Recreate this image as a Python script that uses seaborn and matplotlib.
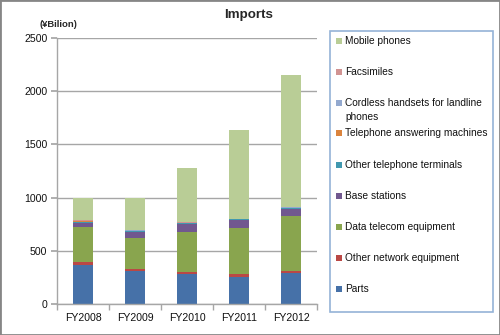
import matplotlib
matplotlib.use("Agg")
import matplotlib.pyplot as plt
from matplotlib.patches import Rectangle
import numpy as np
import pandas as pd
import seaborn as sns

years = ["FY2008", "FY2009", "FY2010", "FY2011", "FY2012"]
# stacking order bottom -> top
series_names = ["Parts", "Other network equipment", "Data telecom equipment",
                "Base stations", "Other telephone terminals",
                "Telephone answering machines",
                "Cordless handsets for landline\nphones", "Facsimiles",
                "Mobile phones"]
parts = [370, 315, 284, 259, 290]
other_network = [25, 16, 16, 22, 22]
data_telecom = [330, 294, 378, 434, 513]
base_stations = [40, 53, 72, 72, 68]
other_tel_terminals = [10, 9, 9, 10, 13]
answering_machines = [2, 2, 2, 1, 1]
cordless = [5, 4, 4, 2, 5]
facsimiles = [8, 4, 4, 0, 1]
mobile = [210, 298, 506, 834, 1237]
colors = ["#4671A8", "#BA4845", "#89A54E", "#71588F", "#4198AF",
          "#DB843D", "#93A9CF", "#D19392", "#B9CD96"]

values = [parts, other_network, data_telecom, base_stations, other_tel_terminals,
          answering_machines, cordless, facsimiles, mobile]

sns.set_theme(style="white")
plt.rcParams['font.family'] = ['Liberation Sans', 'DejaVu Sans']

fig = plt.figure(figsize=(5.0, 3.35), dpi=100)
ax = fig.add_axes([0.114, 0.0916, 0.52, 0.796])

bottom = np.zeros(len(years))
for name, vals, col in zip(series_names, values, colors):
    df = pd.DataFrame({"year": years, "value": vals})
    sns.barplot(data=df, x="year", y="value", ax=ax, color=col, width=0.385,
                bottom=bottom, saturation=1, edgecolor="none", linewidth=0,
                errorbar=None)
    bottom = bottom + np.array(vals)

ax.set_ylim(0, 2500)
ax.set_xlim(-0.5, 4.5)
ax.set_yticks(np.arange(0, 2501, 500))
ax.yaxis.grid(True, color="#A6A6A6", linewidth=1)
ax.set_axisbelow(True)
ax.set_xlabel("")
ax.set_ylabel("")
for s in ["top", "right"]:
    ax.spines[s].set_visible(False)
for s in ["left", "bottom"]:
    ax.spines[s].set_color("#A6A6A6")
    ax.spines[s].set_linewidth(1)
ax.tick_params(axis="y", which="major", left=True, length=4, color="#A6A6A6",
               labelsize=7.6, pad=3, labelcolor="#111111")
ax.tick_params(axis="x", which="major", length=0, labelsize=7.6, pad=6,
               labelcolor="#111111")
ax.set_xticks(np.arange(-0.5, 4.6, 1.0), minor=True)
ax.tick_params(axis="x", which="minor", bottom=True, length=4, color="#A6A6A6")

fig.text(0.498, 0.955, "Imports", ha="center", va="center", fontsize=9.6,
         fontweight="bold")
fig.text(0.117, 0.928, "(\u00a5Bilion)", ha="center", va="center", fontsize=6.8,
         fontweight="bold")

# legend box
fig.add_artist(Rectangle((330 / 500, 1 - 312 / 335), 163 / 500, 281 / 335,
                         transform=fig.transFigure, fill=False,
                         edgecolor="#95B3D7", linewidth=1.2))
legend_y = {"Mobile phones": 41, "Facsimiles": 72,
            "Cordless handsets for landline\nphones": 110,
            "Telephone answering machines": 133,
            "Other telephone terminals": 165, "Base stations": 196,
            "Data telecom equipment": 227, "Other network equipment": 258,
            "Parts": 289}
for name, col in zip(series_names, colors):
    y = legend_y[name]
    if "\n" in name:
        sq_y = 103
    else:
        sq_y = y
    fig.add_artist(Rectangle((336 / 500, 1 - (sq_y + 3) / 335), 6 / 500, 6 / 335,
                             transform=fig.transFigure, facecolor=col,
                             edgecolor="none"))
    fig.text(345 / 500, 1 - y / 335, name, ha="left", va="center",
             fontsize=7.25, linespacing=1.5, color="#111111")

# outer border
fig.add_artist(Rectangle((0, 0), 1, 1, transform=fig.transFigure, fill=False,
                         edgecolor="#868686", linewidth=2))

fig.savefig("out.png", dpi=100)
